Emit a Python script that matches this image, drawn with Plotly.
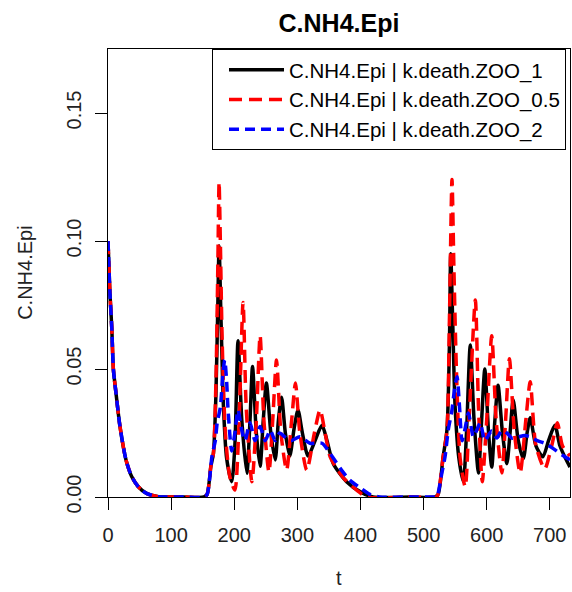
import plotly.graph_objects as go

# values (t in days, C.NH4.Epi)
t_k1 = [0, 1.5, 3, 6, 8.5, 12.7, 19, 28.5, 37.5, 48, 61, 80, 120, 152,
        157, 163, 167, 171, 174, 176, 179, 183, 188, 196, 201, 206, 212,
        220, 225, 229, 235, 241, 246, 251, 258, 265, 270, 275, 281, 288,
        295, 301, 308, 317, 328, 339, 347, 357, 378, 400, 420, 480, 518,
        523, 531, 537, 541, 543, 546, 550, 556, 563, 568, 574, 580, 587,
        592, 597, 603, 608, 613, 618, 625, 632, 637, 642, 650, 658, 664,
        669, 678, 689, 698, 708, 716, 725, 732]
c_k1 = [0.100, 0.090, 0.080, 0.066, 0.050, 0.0405, 0.0275, 0.0145, 0.008, 0.004, 0.0014, 0.0001, 0.0, 0.0,
        0.001, 0.012, 0.017, 0.040, 0.075, 0.098, 0.070, 0.035, 0.015, 0.006, 0.020, 0.061, 0.030,
        0.0093, 0.030, 0.051, 0.025, 0.012, 0.030, 0.0445, 0.025, 0.0145, 0.030, 0.039, 0.025, 0.016,
        0.027, 0.034, 0.025, 0.016, 0.022, 0.028, 0.022, 0.013, 0.006, 0.002, 0.0, 0.0, 0.0,
        0.001, 0.0157, 0.026, 0.060, 0.095, 0.070, 0.035, 0.015, 0.006, 0.025, 0.0594, 0.030, 0.0094,
        0.030, 0.050, 0.025, 0.0117, 0.030, 0.0437, 0.025, 0.013, 0.025, 0.038, 0.022, 0.015, 0.025,
        0.031, 0.020, 0.0157, 0.022, 0.028, 0.020, 0.015, 0.0117]

t_k05 = [0, 1.5, 3, 6, 8.5, 12.7, 19, 28.5, 37.5, 48, 61, 80, 120, 152,
         157, 163, 167, 171, 174, 176, 178, 181, 186, 193, 201, 207, 214,
         219, 228, 235, 241, 247, 255, 261, 267, 274, 283, 291, 297, 304,
         315, 327, 336, 344, 352, 372, 394, 410, 480, 520,
         523, 531, 537, 541, 545, 548, 552, 558, 566, 572, 582, 587, 593,
         600, 608, 615, 624, 630, 636, 644, 653, 662, 669, 678, 692, 703,
         712, 720, 732]
c_k05 = [0.100, 0.090, 0.080, 0.066, 0.050, 0.0405, 0.0275, 0.0145, 0.008, 0.004, 0.0014, 0.0001, 0.0, 0.0,
         0.001, 0.012, 0.017, 0.045, 0.090, 0.123, 0.100, 0.060, 0.025, 0.008, 0.0027, 0.025, 0.076,
         0.035, 0.006, 0.030, 0.063, 0.030, 0.0098, 0.030, 0.0535, 0.025, 0.0105, 0.030, 0.0445, 0.025,
         0.0105, 0.025, 0.034, 0.025, 0.0157, 0.0078, 0.0027, 0.0, 0.0, 0.0,
         0.001, 0.0157, 0.026, 0.070, 0.124, 0.090, 0.050, 0.015, 0.004, 0.030, 0.077, 0.035, 0.006,
         0.030, 0.063, 0.030, 0.0094, 0.030, 0.054, 0.025, 0.0094, 0.030, 0.045, 0.020, 0.011, 0.020,
         0.029, 0.020, 0.016]

t_k2 = [0, 1.5, 3, 6, 8.5, 12.7, 19, 28.5, 37.5, 48, 61, 80, 120, 152,
        157, 165, 170, 173, 178, 182, 185, 188, 190, 196, 201, 206, 212,
        217, 225, 233, 241, 249, 257, 265, 272, 280, 290, 304, 320, 339,
        352, 370, 383, 400, 415, 430, 480, 518,
        521, 529, 534, 539, 545, 549, 553, 557, 561, 566, 571, 579, 584,
        590, 597, 608, 616, 624, 632, 640, 650, 660, 669, 680, 692, 705,
        719, 732]
c_k2 = [0.100, 0.090, 0.080, 0.066, 0.050, 0.0405, 0.0275, 0.0145, 0.008, 0.004, 0.0014, 0.0001, 0.0, 0.0,
        0.001, 0.0164, 0.022, 0.029, 0.035, 0.048, 0.0535, 0.045, 0.035, 0.018, 0.025, 0.034, 0.026,
        0.022, 0.029, 0.022, 0.0275, 0.022, 0.026, 0.022, 0.025, 0.0235, 0.022, 0.0235, 0.021, 0.021,
        0.017, 0.0105, 0.0066, 0.0035, 0.001, 0.0, 0.0, 0.0,
        0.0, 0.0094, 0.0157, 0.026, 0.034, 0.042, 0.047, 0.035, 0.022, 0.027, 0.0328, 0.0235, 0.026,
        0.029, 0.022, 0.0258, 0.023, 0.026, 0.025, 0.023, 0.0235, 0.024, 0.0235, 0.022, 0.021, 0.019,
        0.0165, 0.0145]

series_names = ["C.NH4.Epi | k.death.ZOO_1",
                "C.NH4.Epi | k.death.ZOO_0.5",
                "C.NH4.Epi | k.death.ZOO_2"]
x_ticks = [0, 100, 200, 300, 400, 500, 600, 700]
y_ticks = [0.00, 0.05, 0.10, 0.15]

FONT = "Liberation Sans, Arial, sans-serif"
W, H = 572, 592

fig = go.Figure()
styles = [("black", "solid"), ("red", "13px,7px"), ("blue", "10px,6px")]
for (tt, cc), name, (col, dash) in zip(
        [(t_k1, c_k1), (t_k05, c_k05), (t_k2, c_k2)], series_names, styles):
    fig.add_trace(go.Scatter(
        x=tt, y=cc, mode="lines", name=name,
        line=dict(color=col, width=3.5, dash=dash, shape="spline", smoothing=0.7),
    ))

axis_common = dict(
    showgrid=False, zeroline=False, showline=True, mirror=True,
    linecolor="black", linewidth=1, ticks="outside", ticklen=12,
    tickcolor="black", tickwidth=1, automargin=False,
    tickfont=dict(family=FONT, size=20, color="#222222"),
)

fig.update_layout(
    width=W, height=H,
    margin=dict(l=108, r=2, t=49, b=95, autoexpand=False),
    paper_bgcolor="white", plot_bgcolor="white",
    font=dict(family=FONT, color="black"),
    title=dict(text="<b>C.NH4.Epi</b>", x=0.5, xref="paper",
               y=1 - 23 / H, yanchor="middle", automargin=False,
               font=dict(family=FONT, size=25, color="black")),
    xaxis=dict(range=[0, 732], tickvals=x_ticks, ticklabelstandoff=8, **axis_common),
    yaxis=dict(range=[0, 0.175], tickvals=y_ticks, tickformat=".2f",
               tickangle=-90, ticklabelstandoff=6, **axis_common),
    legend=dict(x=(212 - 108) / 462, xanchor="left", y=1, yanchor="top",
                bordercolor="black", borderwidth=1, bgcolor="white",
                font=dict(family=FONT, size=20.5, color="black"),
                tracegroupgap=0, itemwidth=55, indentation=11),
    showlegend=True,
    annotations=[
        dict(text="t", xref="paper", yref="paper", x=0.5, y=-0.18,
             showarrow=False, yanchor="middle",
             font=dict(family=FONT, size=20, color="#222222")),
        dict(text="C.NH4.Epi", xref="paper", yref="paper", x=-0.18, y=0.5,
             showarrow=False, textangle=-90, xanchor="center",
             font=dict(family=FONT, size=20, color="#222222")),
    ],
)

# drop the default 8px page margin so the figure fills the window exactly
fig.write_html(
    "out.html",
    config={"displayModeBar": False},
    post_script="document.body.style.margin='0';document.body.style.overflow='hidden';",
)
